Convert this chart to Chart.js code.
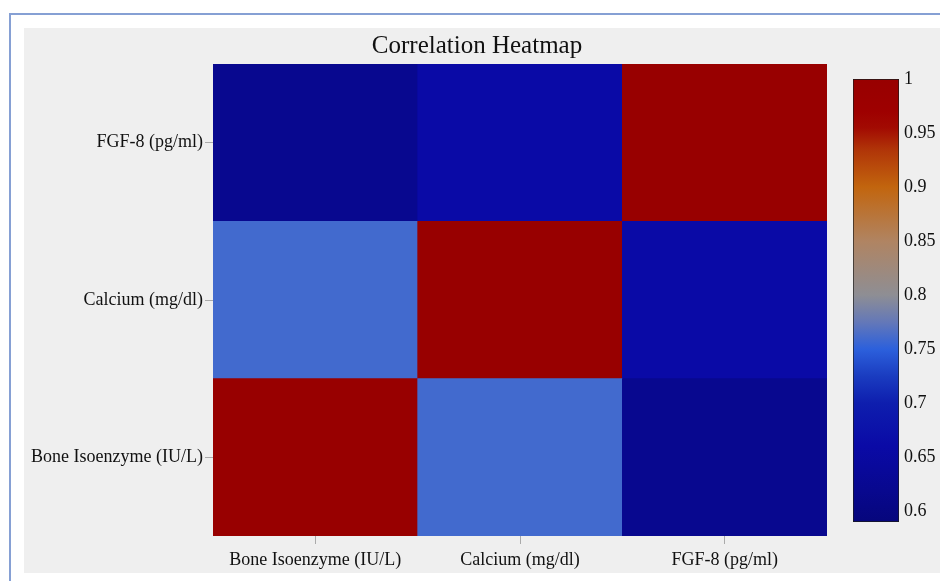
<!DOCTYPE html>
<html>
<head>
<meta charset="utf-8">
<script src="https://cdn.jsdelivr.net/npm/chart.js@4.4.1/dist/chart.umd.min.js"></script>
<style>
  body { margin: 0; background: #ffffff; width: 940px; height: 581px; overflow: hidden; position: relative; }
  #frame { position: absolute; left: 9px; top: 13px; width: 940px; height: 600px;
           border-top: 2px solid #86a0d4; border-left: 2px solid #86a0d4; box-sizing: border-box; }
  #panel { position: absolute; left: 24px; top: 28px; width: 916px; height: 545px; background: #efefef; }
  #heatWrap { position: absolute; left: 24px; top: 28px; width: 916px; height: 545px; }
  #barWrap { position: absolute; left: 840px; top: 60px; width: 100px; height: 480px; }
</style>
</head>
<body>
<div id="frame"></div>
<div id="panel"></div>
<div id="heatWrap"><canvas id="heatmap"></canvas></div>
<div id="barWrap"><canvas id="colorbar"></canvas></div>
<script>
// variables (columns left->right, rows bottom->top)
const variables = ['Bone Isoenzyme (IU/L)', 'Calcium (mg/dl)', 'FGF-8 (pg/ml)'];

// correlation rows, one per variable
const corrBone = [1, 0.76, 0.62];
const corrCalcium = [0.76, 1, 0.66];
const corrFgf8 = [0.62, 0.66, 1];

// colour scale
const cbMin = 0.59;
const cbMax = 1;
const cbTicks = [0.6, 0.65, 0.7, 0.75, 0.8, 0.85, 0.9, 0.95, 1];
const cbTickLabels = ['0.6', '0.65', '0.7', '0.75', '0.8', '0.85', '0.9', '0.95', '1'];
const cmapValues = [0.59, 0.62, 0.66, 0.70, 0.725, 0.75, 0.775, 0.80, 0.85, 0.90, 0.935, 0.955, 0.97, 1.0];
const cmapColors = ['#06067c', '#08088f', '#0a0aa6', '#0e1eae', '#1a3cc0', '#2c60dc', '#6478b8',
                    '#8e8e94', '#b08462', '#c2650e', '#b03408', '#a20a02', '#9e0000', '#980000'];

const serif = "'Liberation Serif', 'Times New Roman', serif";

function hexToRgb(h) {
    return [parseInt(h.slice(1, 3), 16), parseInt(h.slice(3, 5), 16), parseInt(h.slice(5, 7), 16)];
}

function colorFor(v) {
    if (v <= cmapValues[0]) return cmapColors[0];
    for (let i = 1; i < cmapValues.length; i++) {
        if (v <= cmapValues[i]) {
            const t = (v - cmapValues[i - 1]) / (cmapValues[i] - cmapValues[i - 1]);
            const a = hexToRgb(cmapColors[i - 1]);
            const b = hexToRgb(cmapColors[i]);
            const c = a.map((x, k) => Math.round(x + t * (b[k] - x)));
            return 'rgb(' + c.join(',') + ')';
        }
    }
    return cmapColors[cmapColors.length - 1];
}

const rows = [corrBone, corrCalcium, corrFgf8];

// each row is one stacked dataset, each cell one unit tall
const heatData = {
    labels: variables,
    datasets: rows.map((row, i) => ({
        label: variables[i],
        data: variables.map(() => 1),
        backgroundColor: row.map(colorFor),
        borderWidth: 0,
        barPercentage: 1,
        categoryPercentage: 1
    }))
};

new Chart(document.getElementById('heatmap'), {
    type: 'bar',
    data: heatData,
    options: {
        responsive: true,
        maintainAspectRatio: false,
        animation: false,
        layout: { padding: { left: 0, right: 10, top: 0, bottom: 0 } },
        plugins: {
            legend: { display: false },
            tooltip: { enabled: false },
            title: {
                display: true,
                text: 'Correlation Heatmap',
                color: '#111',
                font: { family: serif, size: 25, weight: 'normal', lineHeight: 1.2 },
                padding: { top: 3, bottom: 3 }
            }
        },
        scales: {
            x: {
                stacked: true,
                grid: { display: true, drawOnChartArea: false, offset: false, tickLength: 8, tickColor: '#aaaaaa' },
                border: { display: false },
                ticks: { color: '#111', padding: 5, font: { family: serif, size: 18 } },
                afterFit: s => { s.height = 37; }
            },
            y: {
                stacked: true,
                min: 0,
                max: variables.length,
                grid: { display: true, drawOnChartArea: false, tickLength: 8, tickColor: '#aaaaaa' },
                border: { display: false },
                afterBuildTicks: axis => {
                    axis.ticks = variables.map((_, i) => ({ value: i + 0.5 }));
                },
                ticks: {
                    color: '#111',
                    padding: 2,
                    font: { family: serif, size: 18 },
                    callback: (v, i) => variables[i]
                },
                afterFit: s => { s.width = 189; }
            },
            // empty axis reserving room for the colour bar
            yRoom: {
                position: 'right',
                grid: { display: false },
                border: { display: false },
                ticks: { display: false },
                afterFit: s => { s.width = 103; }
            }
        }
    }
});

// colour bar
new Chart(document.getElementById('colorbar'), {
    type: 'bar',
    data: {
        labels: [''],
        datasets: [{
            data: [[cbMin, cbMax]],
            backgroundColor: ctx => {
                const chart = ctx.chart;
                if (!chart.chartArea) return cmapColors[0];
                const y = chart.scales.y;
                const g = chart.ctx.createLinearGradient(0, y.getPixelForValue(cbMin), 0, y.getPixelForValue(cbMax));
                cmapValues.forEach((v, i) => g.addColorStop((v - cbMin) / (cbMax - cbMin), cmapColors[i]));
                return g;
            },
            borderColor: '#1a1a1a',
            borderWidth: 1,
            borderSkipped: false,
            barPercentage: 1,
            categoryPercentage: 1
        }]
    },
    options: {
        responsive: true,
        maintainAspectRatio: false,
        animation: false,
        layout: { padding: { left: 13, top: 19, bottom: 18, right: 0 } },
        plugins: { legend: { display: false }, tooltip: { enabled: false } },
        scales: {
            x: { display: false },
            y: {
                position: 'right',
                min: cbMin,
                max: cbMax,
                grid: { display: false, drawTicks: false },
                border: { display: false },
                afterBuildTicks: axis => {
                    axis.ticks = cbTicks.map(v => ({ value: v }));
                },
                ticks: {
                    color: '#111',
                    padding: 5,
                    font: { family: serif, size: 18 },
                    callback: (v, i) => cbTickLabels[i]
                },
                afterFit: s => { s.width = 41; }
            }
        }
    }
});
</script>
</body>
</html>
